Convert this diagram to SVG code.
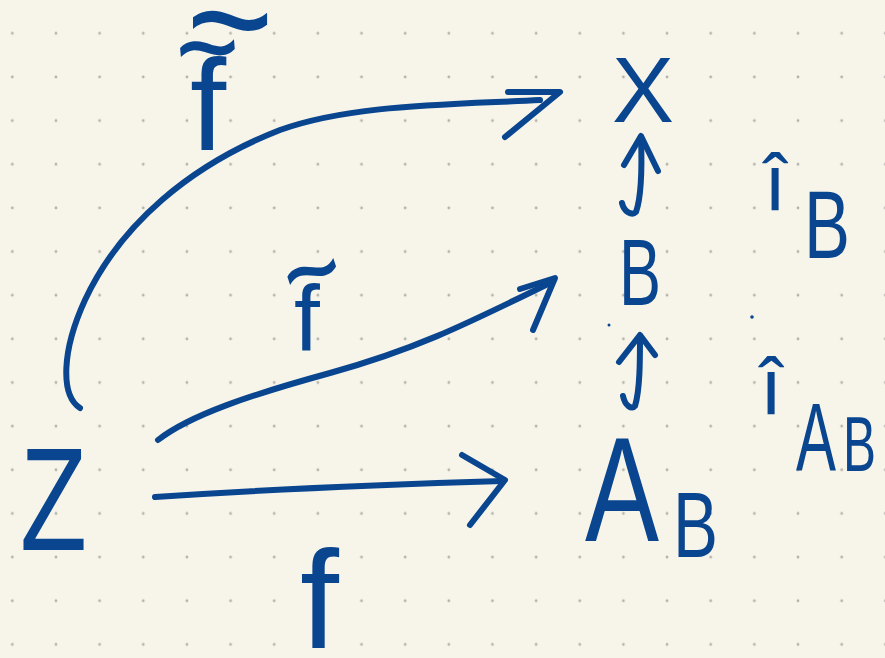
<svg xmlns="http://www.w3.org/2000/svg" width="885" height="658" viewBox="0 0 885 658">
  <style>
    .ink { fill: none; stroke: #0a4690; stroke-width: 6; stroke-linecap: round; stroke-linejoin: round; }
    .lbl { fill: #0a4690; font-family: "Liberation Sans", "DejaVu Sans", sans-serif; }
  </style>
  <defs>
    <pattern id="dots" patternUnits="userSpaceOnUse" x="-9.5" y="11.5" width="43.65" height="43.65">
      <circle cx="21.82" cy="21.82" r="1.4" fill="#b3b1aa"/>
    </pattern>
  </defs>
  <rect width="885" height="658" fill="#f7f5ea"/>
  <rect width="885" height="658" fill="url(#dots)"/>

  <g id="connectors">
    <path class="ink" d="M80,408 C60,395 62,350 85,300 C120,225 190,165 280,130 C350,105 440,105 540,100"/>
    <polyline class="ink" points="505,137 560,92 508,92"/>
    <path class="ink" d="M158,440 C190,415 250,395 330,373 C420,348 470,322 552,282"/>
    <polyline class="ink" points="520,289 555,278 533,330"/>
    <path class="ink" d="M155,497 C260,490 400,484 503,481"/>
    <polyline class="ink" points="462,455 505,480 470,525"/>
    <path class="ink" d="M622,203 C624,212 632,216 636,212 C642,195 642,165 641,137"/>
    <polyline class="ink" points="624,165 641,136 658,171"/>
    <path class="ink" d="M623,396 C625,406 632,410 635,406 C640,390 640,360 640,336"/>
    <polyline class="ink" points="619,362 640,335 655,355"/>
    <circle cx="609" cy="325" r="1.5" fill="#0a4690"/>
    <circle cx="752" cy="317" r="1.8" fill="#0a4690"/>
  </g>

  <g id="node-X"><text class="lbl" x="643" y="122" font-size="93" text-anchor="middle">X</text></g>
  <g id="node-B"><text class="lbl" x="619" y="305" font-size="95" textLength="42" lengthAdjust="spacingAndGlyphs">B</text></g>
  <g id="node-Z"><text class="lbl" x="20" y="550" font-size="146" textLength="67" lengthAdjust="spacingAndGlyphs">Z</text></g>
  <g id="node-AB">
    <text class="lbl" x="585" y="541" font-size="148" textLength="74" lengthAdjust="spacingAndGlyphs">A</text>
    <text class="lbl" x="673" y="557" font-size="93" textLength="45" lengthAdjust="spacingAndGlyphs">B</text>
  </g>

  <g id="label-f"><text class="lbl" x="300" y="648" font-size="140">f</text></g>
  <g id="label-ftilde">
    <text class="lbl" x="294" y="350" font-size="93">f</text>
    <text class="lbl" transform="translate(314,279) rotate(-18) scale(1,1.25)" x="0" y="27" font-size="100" text-anchor="middle">~</text>
  </g>
  <g id="label-fdoubletilde">
    <text class="lbl" x="190" y="150" font-size="130">f</text>
    <text class="lbl" transform="translate(208,56) rotate(-5) scale(1,1.2)" x="0" y="30" font-size="110" text-anchor="middle">~</text>
    <text class="lbl" transform="translate(230,34) scale(1,1.1)" x="0" y="38" font-size="150" text-anchor="middle">~</text>
  </g>
  <g id="label-iB">
    <text class="lbl" x="764" y="210" font-size="80">î</text>
    <text class="lbl" x="804" y="258" font-size="97" textLength="46" lengthAdjust="spacingAndGlyphs">B</text>
  </g>
  <g id="label-iAB">
    <text class="lbl" x="760" y="414" font-size="80">î</text>
    <text class="lbl" x="796" y="470" font-size="97" textLength="40" lengthAdjust="spacingAndGlyphs">A</text>
    <text class="lbl" x="843" y="471" font-size="77" textLength="33" lengthAdjust="spacingAndGlyphs">B</text>
  </g>
</svg>
